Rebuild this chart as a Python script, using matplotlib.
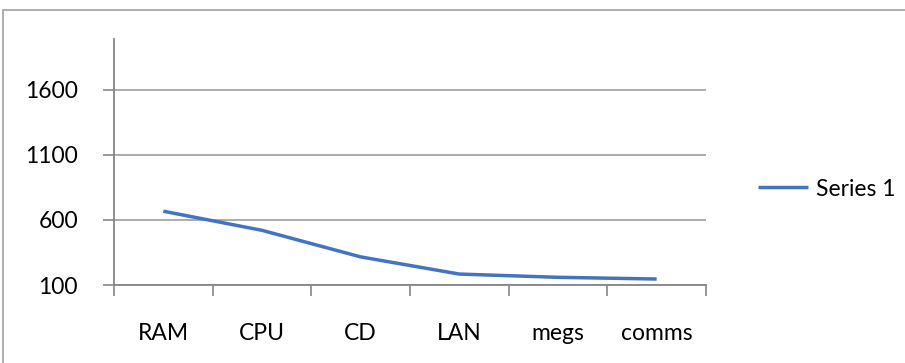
import matplotlib.pyplot as plt
from matplotlib.patches import Rectangle

categories = ["RAM", "CPU", "CD", "LAN", "megs", "comms"]
series_1 = [667, 520, 316, 184, 159, 146]
y_ticks = [100, 600, 1100, 1600]

plt.rcParams['font.family'] = ['Lato', 'DejaVu Sans']

fig = plt.figure(figsize=(9.05, 3.63), dpi=100)
# outer chart-area frame
fig.patches.append(Rectangle((3 / 905, -0.1), 1.2, 1 - 10 / 363 + 0.1,
                             transform=fig.transFigure, fill=False,
                             edgecolor='#a0a0a0', linewidth=1.2))

ax = fig.add_axes([114 / 905, 78 / 363, 592 / 905, 246 / 363])
x = [i + 0.5 for i in range(len(categories))]
line, = ax.plot(x, series_1, color='#4472C4', linewidth=2.5,
                solid_capstyle='butt', label='Series 1', zorder=3)

ax.set_xlim(0, len(categories))
ax.set_ylim(100, 1990)
ax.set_yticks(y_ticks)
ax.set_yticklabels([str(v) for v in y_ticks], fontsize=16.5)
ax.set_xticks(range(len(categories) + 1))
ax.set_xticklabels([])
ax.set_xticks(x, minor=True)
ax.set_xticklabels(categories, minor=True, fontsize=16.5)
ax.tick_params(axis='x', which='minor', length=0, pad=27)
ax.tick_params(axis='x', which='major', length=8, color='#868686', width=1.2)
ax.tick_params(axis='y', length=8, color='#868686', width=1.2, pad=18)

ax.grid(axis='y', color='#a6a6a6', linewidth=1.3)
ax.set_axisbelow(True)
for side in ['top', 'right']:
    ax.spines[side].set_visible(False)
for side in ['left', 'bottom']:
    ax.spines[side].set_color('#868686')
    ax.spines[side].set_linewidth(1.3)

fig.legend(handles=[line], loc='center left', bbox_to_anchor=(737 / 905, 1 - 189 / 363),
           frameon=False, fontsize=16.5, handlelength=2.2, handletextpad=0.35)

fig.savefig('out.png', dpi=100)
